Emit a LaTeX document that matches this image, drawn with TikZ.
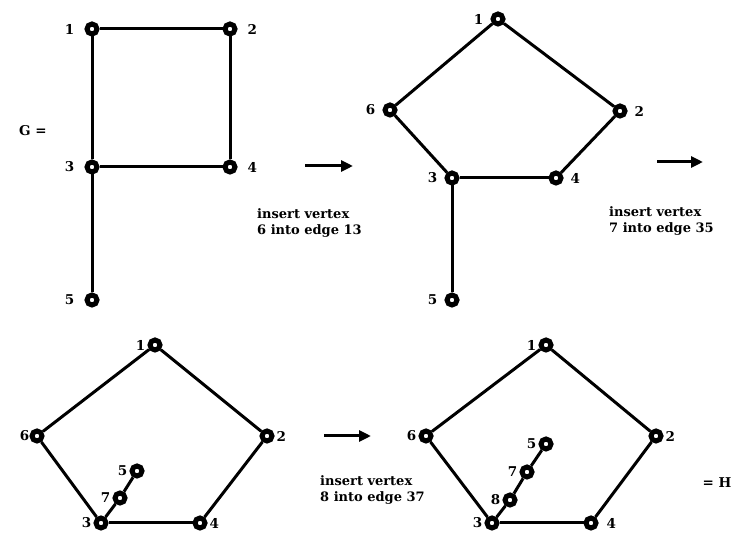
\documentclass[tikz,border=0pt]{standalone}
\usepackage{fontspec}
\setmainfont{DejaVu Serif}
\usetikzlibrary{arrows.meta}
\begin{document}
\begin{tikzpicture}[x=1pt, y=-1pt,
  vtx/.style={circle, draw, fill=white, line width=5pt, minimum size=10pt, inner sep=0pt},
  lbl/.style={font=\fontsize{13.5}{15}\selectfont\bfseries, inner sep=0pt},
  link/.style={line width=3pt},
  trans/.style={line width=3pt, -{Triangle[length=12pt,width=11pt]}},
  note/.style={font=\fontsize{13}{16.5}\selectfont\bfseries, align=left, anchor=west, inner sep=0pt}]
\useasboundingbox (0,0) rectangle (740,537);
% G
\begin{scope}[label distance=10pt, every label/.style={lbl}]
\node[vtx, label=left:1]  (a1) at (92,29) {};
\node[vtx, label=right:2] (a2) at (230,29) {};
\node[vtx, label=left:3]  (a3) at (92,167) {};
\node[vtx, label=right:4] (a4) at (230,167) {};
\node[vtx, label=left:5]  (a5) at (92,300) {};
\end{scope}
\draw[link] (a1) -- (a2);
\draw[link] (a1) -- (a3);
\draw[link] (a2) -- (a4);
\draw[link] (a3) -- (a4);
\draw[link] (a3) -- (a5);
\node[lbl] (gname) at (33,131) {G =};
\coordinate (s1) at (305,166);
\coordinate (t1) at (353,166);
\draw[trans] (s1) -- (t1);
\node[note] (n1) at (257,223) {insert vertex\\6 into edge 13};
% after inserting 6
\begin{scope}[label distance=7pt, every label/.style={lbl}]
\node[vtx, label=left:1]  (b1) at (498,19) {};
\node[vtx, label=left:6]  (b6) at (390,110) {};
\node[vtx, label=right:2] (b2) at (620,111) {};
\node[vtx, label=left:3]  (b3) at (452,178) {};
\node[vtx, label=right:4] (b4) at (556,178) {};
\node[vtx, label=left:5]  (b5) at (452,300) {};
\end{scope}
\draw[link] (b1) -- (b6);
\draw[link] (b1) -- (b2);
\draw[link] (b6) -- (b3);
\draw[link] (b2) -- (b4);
\draw[link] (b3) -- (b4);
\draw[link] (b3) -- (b5);
\coordinate (s2) at (657,162);
\coordinate (t2) at (703,162);
\draw[trans] (s2) -- (t2);
\node[note] (n2) at (609,221) {insert vertex\\7 into edge 35};
% after inserting 7
\begin{scope}[label distance=2pt, every label/.style={lbl}]
\node[vtx, label=left:1]  (c1) at (155,345) {};
\node[vtx, label={[label distance=0pt]left:6}] (c6) at (37,436) {};
\node[vtx, label=right:2] (c2) at (267,436) {};
\node[vtx, label=left:3]  (c3) at (101,523) {};
\node[vtx, label=right:4] (c4) at (200,523) {};
\node[vtx, label=left:7]  (c7) at (120,498) {};
\node[vtx, label=left:5]  (c5) at (137,471) {};
\end{scope}
\draw[link] (c1) -- (c6);
\draw[link] (c1) -- (c2);
\draw[link] (c6) -- (c3);
\draw[link] (c2) -- (c4);
\draw[link] (c3) -- (c4);
\draw[link] (c3) -- (c7);
\draw[link] (c7) -- (c5);
\coordinate (s3) at (324,436);
\coordinate (t3) at (371,436);
\draw[trans] (s3) -- (t3);
\node[note] (n3) at (320,490) {insert vertex\\8 into edge 37};
% H
\begin{scope}[label distance=2pt, every label/.style={lbl}]
\node[vtx, label=left:1]  (d1) at (546,345) {};
\node[vtx, label=left:6]  (d6) at (426,436) {};
\node[vtx, label=right:2] (d2) at (656,436) {};
\node[vtx, label=left:3]  (d3) at (492,523) {};
\node[vtx, label={[label distance=8pt]right:4}] (d4) at (591,523) {};
\node[vtx, label=left:8]  (d8) at (510,500) {};
\node[vtx, label=left:7]  (d7) at (527,472) {};
\node[vtx, label=left:5]  (d5) at (546,444) {};
\end{scope}
\draw[link] (d1) -- (d6);
\draw[link] (d1) -- (d2);
\draw[link] (d6) -- (d3);
\draw[link] (d2) -- (d4);
\draw[link] (d3) -- (d4);
\draw[link] (d3) -- (d8);
\draw[link] (d8) -- (d7);
\draw[link] (d7) -- (d5);
\node[lbl] (hname) at (717,483) {= H};
\end{tikzpicture}
\end{document}
